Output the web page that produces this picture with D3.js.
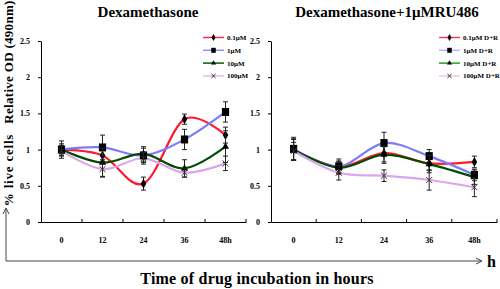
<!DOCTYPE html>
<html>
<head>
<meta charset="utf-8">
<script src="https://d3js.org/d3.v7.min.js"></script>
<style>
  body { margin: 0; background: #fff; }
  svg text { font-family: "Liberation Serif", "DejaVu Serif", serif; font-weight: bold; }
</style>
</head>
<body>
<div id="chart"></div>
<script>
// ---- data ----
const hours = ["0", "12", "24", "36", "48h"];
const yTicks = [0, 0.5, 1, 1.5, 2, 2.5];

const dexNames = ["0.1μM", "1μM", "10μM", "100μM"];
const dexValues = [
  [1.00, 0.92, 0.53, 1.42, 1.20],
  [1.00, 1.03, 0.92, 1.14, 1.52],
  [1.00, 0.82, 0.94, 0.74, 1.04],
  [0.98, 0.73, 0.88, 0.68, 0.81]
];
const dexErrors = [
  [0.06, 0.08, 0.09, 0.07, 0.11],
  [0.12, 0.17, 0.10, 0.14, 0.14],
  [0.08, 0.20, 0.10, 0.12, 0.22],
  [0.07, 0.10, 0.08, 0.06, 0.10]
];

const ruNames = ["0.1μM D+R", "1μM D+R", "10μM D+R", "100μM D+R"];
const ruValues = [
  [1.00, 0.76, 0.95, 0.81, 0.83],
  [1.01, 0.77, 1.09, 0.91, 0.65],
  [1.00, 0.75, 0.93, 0.80, 0.62],
  [0.98, 0.68, 0.64, 0.58, 0.48]
];
const ruErrors = [
  [0.15, 0.08, 0.12, 0.10, 0.08],
  [0.16, 0.10, 0.15, 0.09, 0.08],
  [0.14, 0.09, 0.12, 0.12, 0.10],
  [0.12, 0.10, 0.08, 0.14, 0.13]
];

const lineColors = ["#ff1a2e", "#7b7bff", "#004d00", "#dca6ec"];
const legendColors = [
  ["#ff2a50", "#8c8cff", "#0a5a0a", "#e8b8f0"],
  ["#ff3a6a", "#b4b4ff", "#2a9a2a", "#f0c8f4"]
];
const markers = ["diamond", "square", "triangle", "cross"];

// ---- layout ----
const width = 500, height = 289;
const svg = d3.select("#chart").append("svg")
  .attr("width", width).attr("height", height);

const y = d3.scaleLinear().domain([0, 2.5]).range([222, 41]);

function marker(g, type, cx, cy, s) {
  if (type === "square") {
    g.append("rect").attr("x", cx - s * 0.45).attr("y", cy - s * 0.5)
      .attr("width", s * 0.9).attr("height", s).attr("fill", "#000");
  } else if (type === "diamond") {
    g.append("path").attr("d", d3.symbol(d3.symbolDiamond, s * s * 0.55)())
      .attr("transform", `translate(${cx},${cy})`).attr("fill", "#000");
  } else if (type === "triangle") {
    g.append("path").attr("d", d3.symbol(d3.symbolTriangle, s * s * 0.45)())
      .attr("transform", `translate(${cx},${cy})`).attr("fill", "#000");
  } else {
    g.append("path").attr("d", d3.symbol(d3.symbolTimes, s * s * 0.5)())
      .attr("transform", `translate(${cx},${cy})`)
      .attr("fill", "none").attr("stroke", "#333").attr("stroke-width", 1);
  }
}

function panel(opts) {
  const x = d3.scaleBand().domain(hours).range([opts.x0, opts.x1]);
  const cx = d => x(d) + x.bandwidth() / 2;
  const g = svg.append("g");

  // title
  g.append("text").attr("x", opts.titleX).attr("y", 17)
    .attr("text-anchor", "middle").attr("font-size", 15)
    .text(opts.title);

  // y axis
  const ya = g.append("g").attr("transform", `translate(${opts.x0},0)`)
    .call(d3.axisLeft(y).tickValues(yTicks).tickSize(3).tickSizeOuter(0)
      .tickFormat(d => d));
  ya.selectAll("text").attr("font-size", 8).attr("font-weight", "bold")
    .attr("font-family", "Liberation Serif").attr("dx", "-5");
  ya.selectAll("line, path").attr("stroke", "#000");

  // x axis
  const xa = g.append("g").attr("transform", `translate(0,${y(0)})`)
    .call(d3.axisBottom(x).tickSize(0).tickPadding(15));
  xa.selectAll("text").attr("font-size", 8).attr("font-weight", "bold")
    .attr("font-family", "Liberation Serif");
  xa.select(".domain").attr("stroke", "#000");
  // ticks between categories, pointing up
  g.selectAll(".sep").data(hours.slice(1).concat(["end"])).join("line")
    .attr("x1", d => d === "end" ? opts.x1 : x(d))
    .attr("x2", d => d === "end" ? opts.x1 : x(d))
    .attr("y1", y(0)).attr("y2", y(0) - 3)
    .attr("stroke", "#000");

  const line = d3.line().x((d, i) => cx(hours[i])).y(d => y(d))
    .curve(d3.curveCardinal.tension(0));

  // lines
  opts.values.forEach((vals, s) => {
    g.append("path").datum(vals).attr("d", line)
      .attr("fill", "none").attr("stroke", lineColors[s])
      .attr("stroke-width", 2.2);
  });

  // error bars + markers
  opts.values.forEach((vals, s) => {
    vals.forEach((v, i) => {
      const e = opts.errors[s][i];
      const px = cx(hours[i]);
      const eg = g.append("g").attr("stroke", "#222").attr("stroke-width", 1);
      eg.append("line").attr("x1", px).attr("x2", px)
        .attr("y1", y(v - e)).attr("y2", y(v + e));
      [v - e, v + e].forEach(t => eg.append("line")
        .attr("x1", px - 2.5).attr("x2", px + 2.5)
        .attr("y1", y(t)).attr("y2", y(t)));
      marker(g, markers[s], px, y(v), s === 1 ? 8 : 7);
    });
  });

  // legend
  opts.names.forEach((n, s) => {
    const ly = 37.5 + s * 12.8;
    g.append("line").attr("x1", opts.legX).attr("x2", opts.legX + 21)
      .attr("y1", ly).attr("y2", ly)
      .attr("stroke", opts.legColors[s]).attr("stroke-width", 1.5);
    marker(g, markers[s], opts.legX + 10.5, ly, 5);
    g.append("text").attr("x", opts.legX + 24).attr("y", ly + 2.5)
      .attr("font-size", 7).attr("font-weight", opts.legBold ? "bold" : "normal")
      .text(n);
  });
}

panel({ x0: 41, x1: 246, title: "Dexamethasone", titleX: 148,
  names: dexNames, values: dexValues, errors: dexErrors,
  legX: 203, legColors: legendColors[0], legBold: false });
panel({ x0: 271, x1: 497, title: "Dexamethasone+1μMRU486", titleX: 387,
  names: ruNames, values: ruValues, errors: ruErrors,
  legX: 439, legColors: legendColors[1], legBold: true });

// y label
svg.append("text").attr("transform", "translate(13,62) rotate(-90)")
  .attr("text-anchor", "middle").attr("font-size", 13)
  .attr("letter-spacing", 0.3)
  .text("Relative OD (490nm)");
svg.append("text").attr("transform", "translate(13,170) rotate(-90)")
  .attr("text-anchor", "middle").attr("font-size", 13)
  .attr("letter-spacing", 0.8)
  .text("% live cells");

// arrow frame
svg.append("path").attr("d", "M6,209 L6,261 L481,261")
  .attr("fill", "none").attr("stroke", "#444").attr("stroke-width", 1);
svg.append("path").attr("d", "M3,214 L6,208 L9,214")
  .attr("fill", "none").attr("stroke", "#444").attr("stroke-width", 1);
svg.append("path").attr("d", "M476,258 L482,261 L476,264")
  .attr("fill", "none").attr("stroke", "#444").attr("stroke-width", 1);
svg.append("text").attr("x", 487).attr("y", 267).attr("font-size", 16).text("h");

// x title
svg.append("text").attr("x", 257).attr("y", 284).attr("text-anchor", "middle")
  .attr("font-size", 16).attr("letter-spacing", 0.2)
  .text("Time of drug incubation in hours");
</script>
</body>
</html>
